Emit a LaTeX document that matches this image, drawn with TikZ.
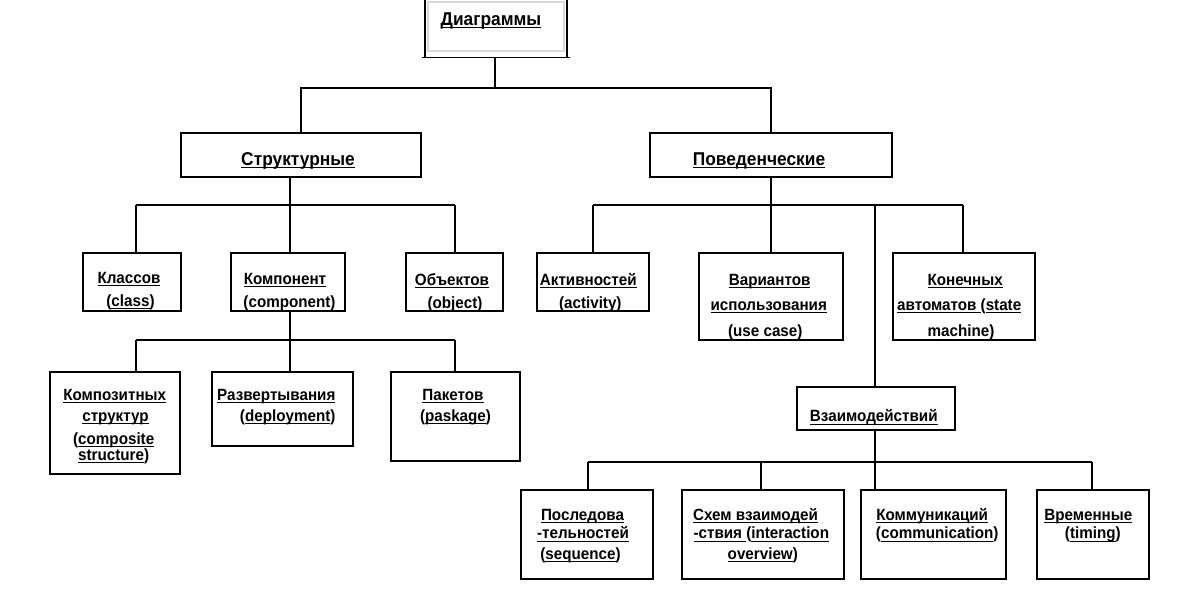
\documentclass[tikz,border=0pt]{standalone}
\usepackage{fontspec}
\usepackage{graphicx}
\setmainfont{Liberation Sans}
\usetikzlibrary{fit}
\newcommand{\uu}[1]{\leavevmode\setbox0=\hbox{#1}\rlap{\rule[-2.1pt]{\wd0}{0.7pt}}\box0}
\begin{document}
\begin{tikzpicture}[x=0.75pt,y=-0.75pt,
  box/.style={draw, line width=0.8pt, inner sep=0pt},
  tall/.style={execute at begin node={\setbox1=\hbox\bgroup},
               execute at end node={\egroup\scalebox{1}[1.07]{\box1}}},
  lbl/.style={anchor=base, inner sep=0pt, tall, font=\fontsize{11.4}{13}\selectfont\bfseries},
  big/.style={anchor=base, inner sep=0pt, tall, font=\fontsize{13}{15}\selectfont\bfseries},
  wire/.style={line width=0.8pt}]
\useasboundingbox (0,0) rectangle (1188,593);
\fill[white] (0,0) rectangle (1188,593);

% top box
\node[inner sep=0pt, fit={(425,-4) (567,57)}] (diag) {};
\draw[gray!30, line width=0.8pt] (428,2) -- (564,2) -- (564,51) -- (428,51) -- cycle;
\draw[line width=1.6pt] (diag.north west) -- (diag.south west);
\draw[line width=1.6pt] (diag.north east) -- (diag.south east);
\draw[wire] ([xshift=-2.25pt]diag.south west) -- ([xshift=2.25pt]diag.south east);
\node[big] (diagT) at (491,25) {\uu{Диаграммы}};

% level 1
\node[box, fit={(181,133) (421,177)}] (str) {};
\node[big] (strT) at (298,165) {\uu{Структурные}};
\node[box, fit={(650,133) (892,177)}] (beh) {};
\node[big] (behT) at (759,165) {\uu{Поведенческие}};

% structural children
\node[box, fit={(83,253) (181,311)}] (kls) {};
\node[lbl] (klsT1) at (129,283) {\uu{Классов}};
\node[lbl] (klsT2) at (130.5,306) {(\uu{class})};
\node[box, fit={(231,253) (345,311)}] (kmp) {};
\node[lbl] (kmpT1) at (285,284) {\uu{Компонент}};
\node[lbl] (kmpT2) at (289.5,307.5) {(\uu{component})};
\node[box, fit={(406,253) (503,311)}] (obj) {};
\node[lbl] (objT1) at (452,285) {\uu{Объектов}};
\node[lbl] (objT2) at (455,308) {(\uu{object})};

\node[box, fit={(50,372) (180,474)}] (kmz) {};
\node[lbl] (kmzT1) at (114.7,400) {\uu{Композитных}};
\node[lbl] (kmzT2) at (115.5,421) {\uu{структур}};
\node[lbl] (kmzT3) at (113.7,444) {(\uu{composite}};
\node[lbl] (kmzT4) at (113.7,460) {\uu{structure})};
\node[box, fit={(212,372) (353,446)}] (raz) {};
\node[lbl] (razT1) at (276.3,400) {\uu{Развертывания}};
\node[lbl] (razT2) at (287.7,421) {(\uu{deployment})};
\node[box, fit={(391,372) (520,461)}] (pak) {};
\node[lbl] (pakT1) at (453,400) {\uu{Пакетов}};
\node[lbl] (pakT2) at (455.5,421) {(\uu{paskage})};

% behavioural children
\node[box, fit={(537,253) (649,311)}] (act) {};
\node[lbl] (actT1) at (588.3,285) {\uu{Активностей}};
\node[lbl] (actT2) at (590.3,308) {(\uu{activity})};
\node[box, fit={(699,253) (843,340)}] (var) {};
\node[lbl] (varT1) at (769.7,285) {\uu{Вариантов}};
\node[lbl] (varT2) at (768.7,310) {\uu{использования}};
\node[lbl] (varT3) at (765.3,336.5) {(\uu{use case})};
\node[box, fit={(893,253) (1035,340)}] (kon) {};
\node[lbl] (konT1) at (965.2,285) {\uu{Конечных}};
\node[lbl] (konT2) at (959.2,310) {\uu{автоматов }(\uu{state}};
\node[lbl] (konT3) at (961,336.5) {\uu{machine})};
\node[box, fit={(797,387) (955,430)}] (vzm) {};
\node[lbl] (vzmT) at (873.8,421.5) {\uu{Взаимодействий}};

% interaction children
\node[box, fit={(521,490) (653,579)}] (pos) {};
\node[lbl] (posT1) at (582.5,520) {\uu{Последова}};
\node[lbl] (posT2) at (583,538.5) {\uu{-тельностей}};
\node[lbl] (posT3) at (580.5,559) {(\uu{sequence})};
\node[box, fit={(682,490) (844,579)}] (shm) {};
\node[lbl] (shmT1) at (755.5,520) {\uu{Схем взаимодей}};
\node[lbl] (shmT2) at (761.3,538.5) {\uu{-ствия }(\uu{interaction}};
\node[lbl] (shmT3) at (762.8,559) {\uu{overview})};
\node[box, fit={(861,490) (1006,579)}] (kom) {};
\node[lbl] (komT1) at (932.2,520) {\uu{Коммуникаций}};
\node[lbl] (komT2) at (937.2,538.5) {(\uu{communication})};
\node[box, fit={(1037,490) (1149,579)}] (vrm) {};
\node[lbl] (vrmT1) at (1088.3,520) {\uu{Временные}};
\node[lbl] (vrmT2) at (1092.8,538.5) {(\uu{timing})};

% connectors
\coordinate (j0) at (495,88);
\draw[wire] (diag.south -| j0) -- (j0);
\draw[wire] (str.north) |- (j0) -| (beh.north);

\coordinate (j1) at (290,205);
\coordinate (s1) at (136,205);
\coordinate (s3) at (455,205);
\draw[wire] (str.south -| j1) -- (j1);
\draw[wire] (s1) -- (s3);
\draw[wire] (s1) -- (s1 |- kls.north);
\draw[wire] (j1) -- (j1 |- kmp.north);
\draw[wire] (s3) -- (s3 |- obj.north);

\coordinate (c1) at (136,340);
\coordinate (c2) at (290,340);
\coordinate (c3) at (455,340);
\draw[wire] (kmp.south -| c2) -- (c2);
\draw[wire] (c1) -- (c3);
\draw[wire] (c1) -- (c1 |- kmz.north);
\draw[wire] (c2) -- (c2 |- raz.north);
\draw[wire] (c3) -- (c3 |- pak.north);

\coordinate (b1) at (593,205);
\coordinate (b2) at (771,205);
\coordinate (b3) at (875,205);
\coordinate (b4) at (963,205);
\draw[wire] (beh.south -| b2) -- (b2);
\draw[wire] (b1) -- (b4);
\draw[wire] (b1) -- (b1 |- act.north);
\draw[wire] (b2) -- (b2 |- var.north);
\draw[wire] (b3) -- (b3 |- vzm.north);
\draw[wire] (b4) -- (b4 |- kon.north);

\coordinate (i1) at (588,462);
\coordinate (i2) at (761,462);
\coordinate (i3) at (875,462);
\coordinate (i4) at (1092,462);
\draw[wire] (vzm.south -| i3) -- (i3);
\draw[wire] (i1) -- (i4);
\draw[wire] (i1) -- (i1 |- pos.north);
\draw[wire] (i2) -- (i2 |- shm.north);
\draw[wire] (i3) -- (i3 |- kom.north);
\draw[wire] (i4) -- (i4 |- vrm.north);
\end{tikzpicture}
\end{document}
